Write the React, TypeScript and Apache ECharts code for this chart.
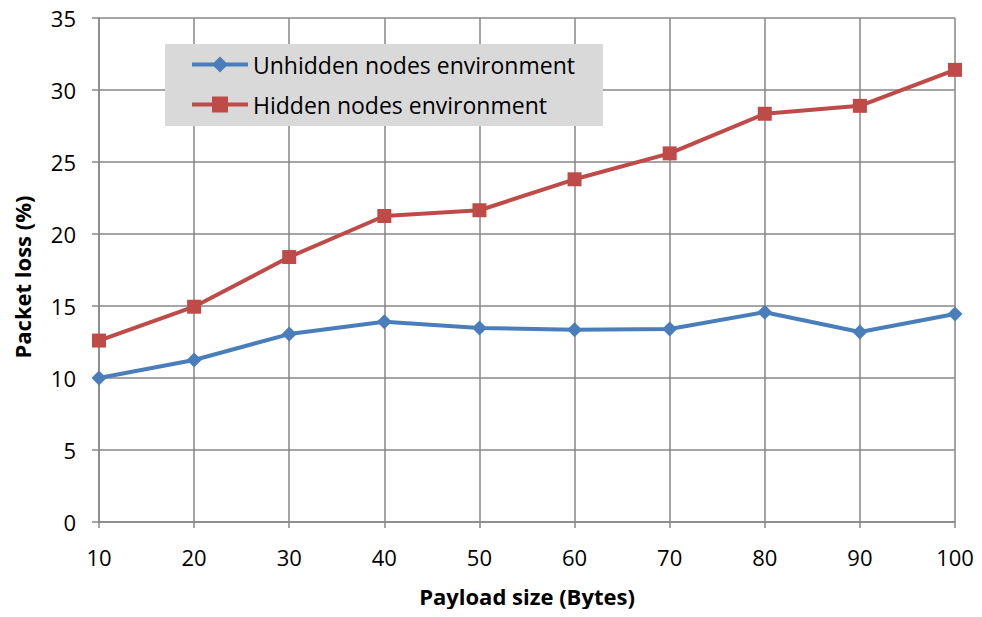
import React, { useEffect, useRef } from "react";
import * as echarts from "echarts";

const categories = ["10", "20", "30", "40", "50", "60", "70", "80", "90", "100"];
const unhidden = [10.0, 11.25, 13.05, 13.9, 13.47, 13.35, 13.4, 14.57, 13.2, 14.45];
const hidden = [12.6, 14.95, 18.4, 21.25, 21.65, 23.8, 25.6, 28.35, 28.9, 31.4];
const seriesNames = ["Unhidden nodes environment", "Hidden nodes environment"];

const FONT = "Open Sans";
const GRID = "#878787";

export default function App() {
  const ref = useRef<HTMLDivElement>(null);
  useEffect(() => {
    const chart = echarts.init(ref.current!, null, { renderer: "svg" });
    chart.setOption({
      animation: false,
      backgroundColor: "#ffffff",
      grid: { left: 99, right: 27, top: 18, bottom: 95, containLabel: false },
      legend: {
        orient: "vertical",
        left: 165,
        top: 44,
        backgroundColor: "#d9d9d9",
        padding: [9, 28, 10, 25],
        itemWidth: 56,
        itemHeight: 20,
        itemGap: 17,
        lineStyle: { width: 4 },
        textStyle: { fontFamily: FONT, fontSize: 23, color: "#000" },
        data: seriesNames,
      },
      xAxis: {
        type: "category",
        data: categories,
        boundaryGap: false,
        name: "Payload size (Bytes)",
        nameLocation: "middle",
        nameGap: 63,
        nameTextStyle: { fontFamily: FONT, fontSize: 22, fontWeight: "bold", color: "#000" },
        axisLine: { lineStyle: { color: GRID, width: 1.5 } },
        axisTick: { show: true, alignWithLabel: true, length: 6, lineStyle: { color: GRID, width: 1.5 } },
        axisLabel: { fontFamily: FONT, fontSize: 22, color: "#000", margin: 24 },
        splitLine: { show: true, lineStyle: { color: GRID, width: 1.5 } },
      },
      yAxis: {
        type: "value",
        min: 0,
        max: 35,
        interval: 5,
        name: "Packet loss (%)",
        nameLocation: "middle",
        nameGap: 66,
        nameRotate: 90,
        nameTextStyle: { fontFamily: FONT, fontSize: 22, fontWeight: "bold", color: "#000", padding: [0, 14, 0, 0] },
        axisLine: { show: true, lineStyle: { color: GRID, width: 1.5 } },
        axisTick: { show: true, length: 7, lineStyle: { color: GRID, width: 1.5 } },
        axisLabel: { fontFamily: FONT, fontSize: 22, color: "#000", margin: 23 },
        splitLine: { show: true, lineStyle: { color: GRID, width: 1.5 } },
      },
      series: [
        {
          name: seriesNames[0],
          type: "line",
          data: unhidden,
          symbol: "diamond",
          symbolSize: 15,
          lineStyle: { color: "#4a7ebb", width: 4 },
          itemStyle: { color: "#4a7ebb" },
        },
        {
          name: seriesNames[1],
          type: "line",
          data: hidden,
          symbol: "rect",
          symbolSize: 14,
          lineStyle: { color: "#be4b48", width: 4 },
          itemStyle: { color: "#be4b48" },
        },
      ],
    });
    return () => chart.dispose();
  }, []);
  return <div ref={ref} style={{ width: 982, height: 617, margin: -8 }} />;
}
